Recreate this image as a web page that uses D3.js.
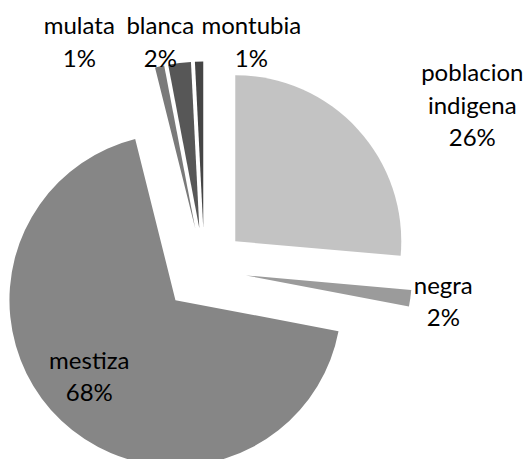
<!DOCTYPE html>
<html>
<head>
<meta charset="utf-8">
<script src="https://cdn.jsdelivr.net/npm/d3@7"></script>
<style>
  body { margin: 0; background: #fff; }
  #chart { width: 529px; height: 459px; }
  text { font-family: Lato, "Open Sans", sans-serif; font-size: 24px; fill: #000; }
</style>
</head>
<body>
<div id="chart"></div>
<script>
// data (percent of total)
var categories = ['poblacion indigena', 'negra', 'mestiza', 'mulata', 'blanca', 'montubia'];
var values = [26.4, 1.6, 68.1, 0.9, 2.2, 0.8];
var colors = ['#c3c3c3', '#9b9b9b', '#868686', '#7a7a7a', '#575757', '#454545'];

// first-baseline of each label, relative to pie centre
var labelOffset = {
  'poblacion indigena': [268, -188.6],
  'negra': [239, 24.4],
  'mestiza': [-115, 99.4],
  'mulata': [-125, -235.6],
  'blanca': [-44, -235.6],
  'montubia': [47, -235.6]
};

var width = 529, height = 459;
var cx = 204.3, cy = 269.6,
    radius = 166,
    explode = 42,
    lineH = 32.5;

var data = categories.map(function(c, i) { return { name: c, value: values[i], color: colors[i] }; });
var total = d3.sum(values);

var pie = d3.pie()
  .value(function(d) { return d.value; })
  .sort(null)
  .startAngle(0)
  .endAngle(2 * Math.PI);

var arc = d3.arc().innerRadius(0).outerRadius(radius);

var svg = d3.select('#chart').append('svg')
  .attr('width', width)
  .attr('height', height);

var g = svg.append('g')
  .attr('transform', 'translate(' + cx + ',' + cy + ')');

var arcs = pie(data);

//Slices, each pushed out along its bisector
g.selectAll('path.slice')
  .data(arcs)
  .enter()
  .append('path')
  .attr('class', 'slice')
  .attr('fill', function(d) { return d.data.color; })
  .attr('transform', function(d) {
    var a = (d.startAngle + d.endAngle) / 2;
    return 'translate(' + (explode * Math.sin(a)) + ',' + (-explode * Math.cos(a)) + ')';
  })
  .attr('d', arc);

//Labels
var labels = g.selectAll('text.lbl')
  .data(arcs)
  .enter()
  .append('text')
  .attr('class', 'lbl')
  .attr('text-anchor', 'middle')
  .attr('x', function(d) { return labelOffset[d.data.name][0]; })
  .attr('y', function(d) { return labelOffset[d.data.name][1]; });

labels.each(function(d) {
  var lines = d.data.name.split(' ');
  lines.push(Math.round(d.data.value / total * 100) + '%');
  var t = d3.select(this);
  var x = labelOffset[d.data.name][0];
  lines.forEach(function(l, i) {
    t.append('tspan')
      .attr('x', x)
      .attr('dy', i === 0 ? 0 : lineH)
      .text(l);
  });
});
</script>
</body>
</html>
